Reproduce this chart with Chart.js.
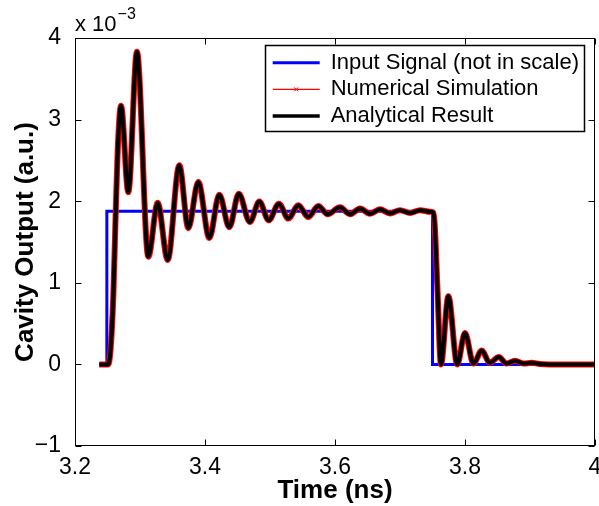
<!DOCTYPE html>
<html><head><meta charset="utf-8">
<script src="https://cdn.jsdelivr.net/npm/chart.js@4"></script>
<style>html,body{margin:0;padding:0;background:#fff}#wrap{width:599px;height:506px}</style>
</head><body><div id="wrap"><canvas id="c" width="599" height="506"></canvas></div>
<script>
// ---- data (values in units of 1e-3) ----
const seriesNames = ['Input Signal (not in scale)', 'Numerical Simulation', 'Analytical Result'];
const inputTime  = [3.2375, 3.249, 3.249, 3.75, 3.75, 4.0];
const inputValue = [0, 0, 1.876, 1.876, 0, 0];
const outputTime = [3.2375, 3.2512, 3.2540, 3.2565, 3.2590, 3.2626, 3.2666, 3.2708, 3.2820, 3.2953,
  3.3128, 3.3272, 3.3426, 3.3605, 3.3743, 3.3897, 3.4067, 3.4220, 3.4374, 3.4520,
  3.4690, 3.4836, 3.4980, 3.5138, 3.5282, 3.5436, 3.5589, 3.5743, 3.5888, 3.6077,
  3.6231, 3.6385, 3.6538, 3.6692, 3.6846, 3.7000, 3.7154, 3.7308, 3.7462, 3.7515,
  3.7535, 3.7575, 3.7630, 3.7744, 3.7880, 3.8000, 3.8130, 3.8257, 3.8380, 3.8520,
  3.8640, 3.8770, 3.8900, 3.9026, 3.9150, 3.9300, 4.0000];
const analyticalValue = [0, 0, 0.12, 0.40, 0.85, 1.85, 2.78, 3.17, 2.11, 3.83,
  1.32, 1.98, 1.28, 2.44, 1.67, 2.235, 1.55, 2.08, 1.68, 2.09,
  1.745, 1.995, 1.766, 1.97, 1.787, 1.95, 1.806, 1.94, 1.84, 1.925,
  1.84, 1.91, 1.845, 1.90, 1.85, 1.89, 1.855, 1.89, 1.87, 1.86,
  1.70, 0.95, 0.00, 0.835, 0.00, 0.385, 0.01, 0.17, 0.02, 0.09,
  0.01, 0.045, 0.01, 0.02, 0.005, 0.0, 0.0];
const numericalValue = [0, 0, 0.12, 0.40, 0.85, 1.85, 2.78, 3.17, 2.11, 3.83,
  1.32, 1.98, 1.28, 2.44, 1.67, 2.235, 1.55, 2.08, 1.68, 2.09,
  1.745, 1.995, 1.766, 1.97, 1.787, 1.95, 1.806, 1.94, 1.84, 1.925,
  1.84, 1.91, 1.845, 1.90, 1.85, 1.89, 1.855, 1.89, 1.87, 1.86,
  1.70, 0.95, 0.00, 0.835, 0.00, 0.385, 0.01, 0.17, 0.02, 0.09,
  0.01, 0.045, 0.01, 0.02, 0.005, 0.0, 0.0];
const xTickValues = [3.2, 3.4, 3.6, 3.8, 4.0];
const xTickLabels = ['3.2', '3.4', '3.6', '3.8', '4'];
const yTickValues = [-1, 0, 1, 2, 3, 4];
const yTickLabels = ['\u22121', '0', '1', '2', '3', '4'];
const yExponentBase = 'x 10';
const yExponentPower = '\u22123';
const xTitle = 'Time (ns)';
const yTitle = 'Cavity Output (a.u.)';

// ---- styles ----
const FONT = "'Liberation Sans', Arial, Helvetica, sans-serif";
const colors = ['#0000ff', '#ff0000', '#000000'];
const legendWidths = [3, 1.3, 3.5];
const LEG = {left: 268, top: 47, pad: 4.7, font: 22, sample: 47};

const toXY = (xs, ys) => xs.map((x, i) => ({x: x, y: ys[i]}));
const labelFor = (vals, labs) => (v) => {
  const i = vals.findIndex(t => Math.abs(t - v) < 1e-9);
  return i >= 0 ? labs[i] : '';
};

const framePlugin = {
  id: 'frame',
  afterUpdate(chart) {
    const lg = chart.legend;
    if (!lg) return;
    const w = lg.width;
    lg.left = LEG.left; lg.top = LEG.top; lg.right = lg.left + w; lg.bottom = lg.top + 400;
    if (lg.adjustHitBoxes) lg.adjustHitBoxes();
  },
  afterDraw(chart) {
    const ctx = chart.ctx, a = chart.chartArea;
    const xs = chart.scales.x, ys = chart.scales.y;
    ctx.save();
    ctx.strokeStyle = '#000';
    ctx.lineWidth = 1;
    const L = Math.round(a.left) + 0.5, R = Math.round(a.right) - 0.5;
    const T = Math.round(a.top) + 0.5, B = Math.round(a.bottom) - 0.5;
    ctx.strokeRect(L, T, R - L, B - T);
    const tl = 6;
    ctx.beginPath();
    xTickValues.forEach(v => {
      const px = Math.round(xs.getPixelForValue(v)) + 0.5;
      ctx.moveTo(px, B); ctx.lineTo(px, B - tl);
      ctx.moveTo(px, T); ctx.lineTo(px, T + tl);
    });
    yTickValues.forEach(v => {
      const py = Math.round(ys.getPixelForValue(v)) + 0.5;
      ctx.moveTo(L, py); ctx.lineTo(L + tl, py);
      ctx.moveTo(R, py); ctx.lineTo(R - tl, py);
    });
    ctx.stroke();
    // legend border
    ctx.lineWidth = 1.5;
    ctx.strokeRect(265.5, 45.5, 319, 86);
    // small marker on the numerical-simulation legend sample
    const cx = LEG.left + LEG.pad + LEG.sample / 2;
    const cy = LEG.top + LEG.pad + (LEG.font + LEG.pad) + LEG.font / 2;
    ctx.strokeStyle = colors[1];
    ctx.lineWidth = 1;
    ctx.beginPath();
    ctx.moveTo(cx - 2, cy - 2); ctx.lineTo(cx + 2, cy + 2);
    ctx.moveTo(cx - 2, cy + 2); ctx.lineTo(cx + 2, cy - 2);
    ctx.stroke();
    // exponent label
    ctx.fillStyle = '#000';
    ctx.textBaseline = 'alphabetic';
    ctx.textAlign = 'left';
    ctx.font = '22px ' + FONT;
    ctx.fillText(yExponentBase, 75, 31);
    const bw = ctx.measureText(yExponentBase).width;
    ctx.font = '16px ' + FONT;
    ctx.fillText(yExponentPower, 75 + bw + 1, 19);
    ctx.restore();
  }
};

new Chart(document.getElementById('c'), {
  type: 'line',
  data: {
    datasets: [
      {label: seriesNames[0], data: toXY(inputTime, inputValue), borderColor: colors[0], backgroundColor: colors[0],
       borderWidth: 3, pointRadius: 0, tension: 0, order: 3},
      {label: seriesNames[1], data: toXY(outputTime, numericalValue), borderColor: colors[1], backgroundColor: colors[1],
       borderWidth: 6, pointRadius: 0, cubicInterpolationMode: 'monotone', order: 2},
      {label: seriesNames[2], data: toXY(outputTime, analyticalValue), borderColor: colors[2], backgroundColor: colors[2],
       borderWidth: 4, pointRadius: 0, cubicInterpolationMode: 'monotone', order: 1}
    ]
  },
  options: {
    responsive: false, animation: false, devicePixelRatio: 1,
    layout: {padding: {top: 38, right: 4, left: 0, bottom: 0}},
    scales: {
      x: {
        type: 'linear', min: 3.2, max: 4.0,
        afterBuildTicks: s => { s.ticks = xTickValues.map(v => ({value: v})); },
        afterFit: s => { s.height = 60; s.paddingLeft = 0; s.paddingRight = 0; },
        ticks: {callback: labelFor(xTickValues, xTickLabels), color: '#000', font: {family: FONT, size: 23},
                padding: 0, maxRotation: 0, autoSkip: false},
        grid: {display: false}, border: {display: false},
        title: {display: true, text: xTitle, color: '#000', font: {family: FONT, size: 26, weight: 'bold'}, padding: {top: 0, bottom: 0}}
      },
      y: {
        type: 'linear', min: -1, max: 4,
        afterBuildTicks: s => { s.ticks = yTickValues.map(v => ({value: v})); },
        afterFit: s => { s.width = 75; s.paddingTop = 0; s.paddingBottom = 0; },
        ticks: {callback: labelFor(yTickValues, yTickLabels), color: '#000', font: {family: FONT, size: 23},
                padding: 6, autoSkip: false},
        grid: {display: false}, border: {display: false},
        title: {display: true, text: yTitle, color: '#000', font: {family: FONT, size: 26, weight: 'bold'}, padding: {top: 10, bottom: 0}}
      }
    },
    plugins: {
      tooltip: {enabled: false},
      legend: {
        position: 'chartArea', align: 'start',
        labels: {
          usePointStyle: true, pointStyleWidth: LEG.sample, boxHeight: 20,
          font: {family: FONT, size: LEG.font}, color: '#000', padding: LEG.pad,
          generateLabels: () => seriesNames.map((name, i) => ({
            text: name, datasetIndex: i, strokeStyle: colors[i], fillStyle: colors[i],
            lineWidth: legendWidths[i], pointStyle: 'line', hidden: false, fontColor: '#000'
          })),
          sort: (a, b) => a.datasetIndex - b.datasetIndex
        }
      }
    }
  },
  plugins: [framePlugin]
});
</script>
</body></html>
